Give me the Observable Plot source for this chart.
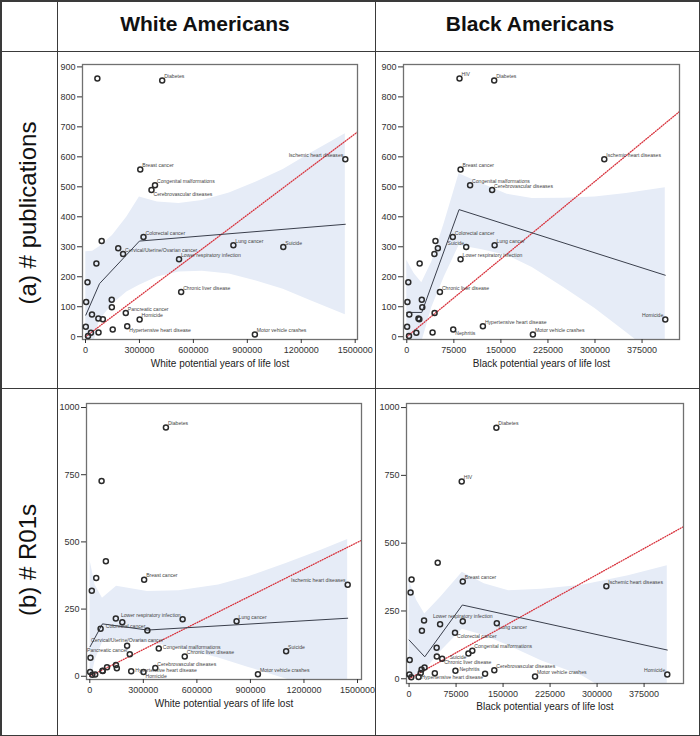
<!DOCTYPE html>
<html><head><meta charset="utf-8">
<script src="https://cdn.jsdelivr.net/npm/d3@7"></script>
<script src="https://cdn.jsdelivr.net/npm/@observablehq/plot@0.6"></script>
<style>
body{margin:0;background:#fff;font-family:"Liberation Sans",Arial,sans-serif;}
#root{position:relative;width:700px;height:736px;overflow:hidden;background:#fff;}
.ln{position:absolute;background:#3a3a3a;}
.panel{position:absolute;}
.hdr{position:absolute;font-weight:bold;font-size:21px;transform:translate(-50%,-50%);white-space:nowrap;color:#111;}
.rowlab{position:absolute;font-size:24px;transform:translate(-50%,-50%) rotate(-90deg);white-space:nowrap;color:#111;}
</style></head><body><div id="root"></div>
<script>
// ---- data ----
const diseases = ["HIV","Diabetes","Breast cancer","Congenital malformations","Cerebrovascular diseases","Ischemic heart diseases","Colorectal cancer","","Suicide","","Cervical/Uterine/Ovarian cancer","Lung cancer","Lower respiratory infection","","","Chronic liver disease","","","","","Pancreatic cancer","","","Homicide","","Hypertensive heart disease","Nephritis","","","","Motor vehicle crashes"];
const publications = [861,855,558,505,489,592,333,319,299,295,276,305,258,244,182,149,116,123,98,74,79,61,58,57,33,35,24,14,13,2,7];
const r01s = [727,926,359,103,31,341,170,428,93,201,114,205,212,177,318,74,69,215,42,366,82,21,34,16,16,19,30,20,7,6,8];
const whiteYLL = [66000,426500,304500,386500,367000,1445000,322500,90000,1100000,182000,209000,822400,520200,60500,11100,532000,3700,145800,146500,36000,224000,71500,96500,301000,1700,232000,151400,72500,30300,14000,942000];
const blackYLL = [84000,139300,85700,100900,136000,314800,73300,45700,94700,49500,44000,140000,85700,20500,2400,52800,1000,23900,24700,4000,44300,18600,20000,412000,500,121300,74000,41100,15200,3500,201000];

// spline fits
const wPubFitX = [1700,78000,300000,1445000], wPubFitY = [72,177,319,375];
const bPubFitX = [0,23900,83300,412000],     bPubFitY = [81,81,424,205];
const wR01FitX = [1700,71000,323000,1445000], wR01FitY = [110,195,172,216];
const bR01FitX = [0,25000,85000,412000],     bR01FitY = [143,81,272,106];

// confidence bands
const wPubBandX = [1700,40000,78000,150000,230000,300000,400000,520000,650000,800000,950000,1100000,1250000,1445000];
const wPubBandHi = [283,285,300,338,399,466,449,444,454,479,516,558,611,677];
const wPubBandLo = [-139,-35,54,108,149,172,199,216,218,209,186,158,121,73];
const bPubBandX = [0,12000,23900,40000,60000,83300,120000,160000,200000,250000,300000,350000,412000];
const bPubBandHi = [255,210,180,250,380,544,510,475,461,462,466,478,497];
const bPubBandLo = [-93,-48,-18,98,200,304,290,271,231,164,94,14,-87];
const wR01BandX = [1700,30000,71000,150000,323000,500000,722000,890000,1100000,1300000,1445000];
const wR01BandHi = [430,340,290,335,315,318,340,370,420,470,509];
const wR01BandLo = [-30,60,126,139,126,105,68,33,-10,-50,-77];
const bR01BandX = [0,12000,25000,50000,85000,120000,159000,212000,276000,350000,412000];
const bR01BandHi = [362,290,239,300,393,350,325,330,345,380,417];
const bR01BandLo = [0,10,30,100,183,160,122,66,11,-90,-200];

// red dotted reference lines (end points)
const wPubRefX = [0,1512800], wPubRefY = [0,683];
const bPubRefX = [0,434700],  bPubRefY = [0,751];
const wR01RefX = [0,1522400], wR01RefY = [0,506];
const bR01RefX = [0,437900],  bR01RefY = [0,561];

const whiteTicks = [0,300000,600000,900000,1200000,1500000];
const blackTicks = [0,75000,150000,225000,300000,375000];
const pubTicks = [0,100,200,300,400,500,600,700,800,900];
const r01Ticks = [0,250,500,750,1000];

// label placement per panel
const OFFS = {
  ur:{anchor:"start",dx:2,dy:-4}, lr:{anchor:"start",dx:2,dy:4}, r:{anchor:"start",dx:4,dy:-1},
  ul:{anchor:"end",dx:-2,dy:-4}, ll:{anchor:"end",dx:-2,dy:4}, u:{anchor:"middle",dx:0,dy:-5}
};
const posWPub = {"Diabetes":"ur","Breast cancer":"ur","Congenital malformations":"ur","Cerebrovascular diseases":"lr","Ischemic heart diseases":"ul","Colorectal cancer":"ur","Cervical/Uterine/Ovarian cancer":"ur","Lower respiratory infection":"ur","Lung cancer":"ur","Suicide":"ur","Chronic liver disease":"ur","Pancreatic cancer":"ur","Homicide":"ur","Hypertensive heart disease":"lr","Motor vehicle crashes":"ur"};
const posBPub = {"HIV":"ur","Diabetes":"ur","Breast cancer":"ur","Congenital malformations":"ur","Cerebrovascular diseases":"ur","Ischemic heart diseases":"ur","Colorectal cancer":"ur","Suicide":"ul","Lung cancer":"ur","Lower respiratory infection":"ur","Chronic liver disease":"ur","Homicide":"ul","Hypertensive heart disease":"ur","Nephritis":"lr","Motor vehicle crashes":"ur"};
const posWR01 = {"Diabetes":"ur","Breast cancer":"ur","Ischemic heart diseases":"ul","Lower respiratory infection":"ul","Lung cancer":"ur","Colorectal cancer":"ul","Cervical/Uterine/Ovarian cancer":"u","Pancreatic cancer":"ul","Congenital malformations":"r","Chronic liver disease":"ur","Suicide":"ur","Cerebrovascular diseases":"ur","Hypertensive heart disease":"r","Homicide":"lr","Motor vehicle crashes":"ur"};
const posBR01 = {"Diabetes":"ur","HIV":"ur","Breast cancer":"ur","Ischemic heart diseases":"ur","Lower respiratory infection":"u","Lung cancer":"lr","Colorectal cancer":"lr","Congenital malformations":"ur","Suicide":"ll","Chronic liver disease":"lr","Nephritis":"r","Cerebrovascular diseases":"ur","Hypertensive heart disease":"ll","Motor vehicle crashes":"ur","Homicide":"ul"};

// ---- layout ----
const root = document.getElementById("root");
function hline(x,y,w,h){const d=document.createElement("div");d.className="ln";Object.assign(d.style,{left:x+"px",top:y+"px",width:w+"px",height:h+"px"});root.appendChild(d);}
function txt(cls,x,y,s){const d=document.createElement("div");d.className=cls;d.style.left=x+"px";d.style.top=y+"px";d.textContent=s;root.appendChild(d);}

const FONT = "'Liberation Sans', Arial, sans-serif";
function panel(cfg){
  const rows = diseases.map((n,i)=>({name:n,x:cfg.xs[i],y:cfg.ys[i]}));
  const band = cfg.bx.map((x,i)=>({x,lo:cfg.blo[i],hi:cfg.bhi[i]}));
  const fit = cfg.fx.map((x,i)=>({x,y:cfg.fy[i]}));
  const ref = cfg.rx.map((x,i)=>({x,y:cfg.ry[i]}));
  const labels = Object.entries(OFFS).map(([code,o]) =>
    Plot.text(rows.filter(r=>cfg.pos[r.name]===code),{x:"x",y:"y",text:"name",textAnchor:o.anchor,dx:o.dx,dy:o.dy,fontSize:5.1,fill:"#444"}));
  const svg = Plot.plot({
    width:cfg.w,height:cfg.h,marginTop:cfg.mt,marginRight:cfg.mr,marginBottom:cfg.mb,marginLeft:cfg.ml,
    style:{fontFamily:FONT,background:"transparent",overflow:"visible"},
    x:{domain:cfg.xd},y:{domain:cfg.yd},
    marks:[
      Plot.areaY(band,{x:"x",y1:"lo",y2:"hi",fill:"#e6ecf7",clip:true}),
      Plot.line(ref,{x:"x",y:"y",stroke:"#d8323c",strokeWidth:1.3,strokeDasharray:"0.9,1.6",clip:true}),
      Plot.line(fit,{x:"x",y:"y",stroke:"#3a3f4c",strokeWidth:1,clip:true}),
      Plot.frame({stroke:"#707070",strokeWidth:1.3}),
      Plot.axisX({ticks:cfg.xt,tickFormat:d3.format("d"),tickSize:4,tickPadding:3,color:"#333",fontSize:9,label:null}),
      Plot.axisY({ticks:cfg.yt,tickFormat:d3.format("d"),tickSize:5,tickPadding:2,color:"#333",fontSize:9,label:null}),
      Plot.dot(rows,{x:"x",y:"y",r:2.5,stroke:"#2b2b2b",strokeWidth:1.5,fill:"none"}),
      ...labels,
      Plot.text([cfg.xl],{text:d=>d,frameAnchor:"bottom",dy:cfg.ldy,fontSize:10,fill:"#222"})
    ]
  });
  const div=document.createElement("div");div.className="panel";div.style.left=cfg.left+"px";div.style.top=cfg.top+"px";
  div.appendChild(svg);root.appendChild(div);
}

panel({left:57,top:51,w:318,h:337,mt:13,mr:18,mb:49,ml:25,xs:whiteYLL,ys:publications,xd:[-16700,1512800],yd:[-9.3,908],xt:whiteTicks,yt:pubTicks,
  bx:wPubBandX,bhi:wPubBandHi,blo:wPubBandLo,fx:wPubFitX,fy:wPubFitY,rx:wPubRefX,ry:wPubRefY,pos:posWPub,xl:"White potential years of life lost",ldy:27});
panel({left:375,top:51,w:325,h:337,mt:13,mr:21,mb:49,ml:28,xs:blackYLL,ys:publications,xd:[-5250,434700],yd:[-9.3,908],xt:blackTicks,yt:pubTicks,
  bx:bPubBandX,bhi:bPubBandHi,blo:bPubBandLo,fx:bPubFitX,fy:bPubFitY,rx:bPubRefX,ry:bPubRefY,pos:posBPub,xl:"Black potential years of life lost",ldy:27});
panel({left:57,top:388,w:318,h:348,mt:15,mr:14,mb:57,ml:29,xs:whiteYLL,ys:r01s,xd:[-18500,1522400],yd:[-12,1015],xt:whiteTicks,yt:r01Ticks,
  bx:wR01BandX,bhi:wR01BandHi,blo:wR01BandLo,fx:wR01FitX,fy:wR01FitY,rx:wR01RefX,ry:wR01RefY,pos:posWR01,xl:"White potential years of life lost",ldy:27});
panel({left:375,top:388,w:325,h:348,mt:15,mr:17,mb:53,ml:31,xs:blackYLL,ys:r01s,xd:[-4100,437900],yd:[-17.4,1015],xt:blackTicks,yt:r01Ticks,
  bx:bR01BandX,bhi:bR01BandHi,blo:bR01BandLo,fx:bR01FitX,fy:bR01FitY,rx:bR01RefX,ry:bR01RefY,pos:posBR01,xl:"Black potential years of life lost",ldy:26});

// grid lines
hline(0,0,700,1.5); hline(0,734.5,700,1.5); hline(0,0,1.5,736); hline(698.5,0,1.5,736);
hline(0,50.5,700,1.5); hline(0,387.5,700,1.5);
hline(56.5,0,1.5,736); hline(374.5,0,1.5,736);

txt("hdr",205,24,"White Americans");
txt("hdr",530,24,"Black Americans");
txt("rowlab",28,213,"(a) # publications");
txt("rowlab",28,560,"(b) # R01s");
</script></body></html>
